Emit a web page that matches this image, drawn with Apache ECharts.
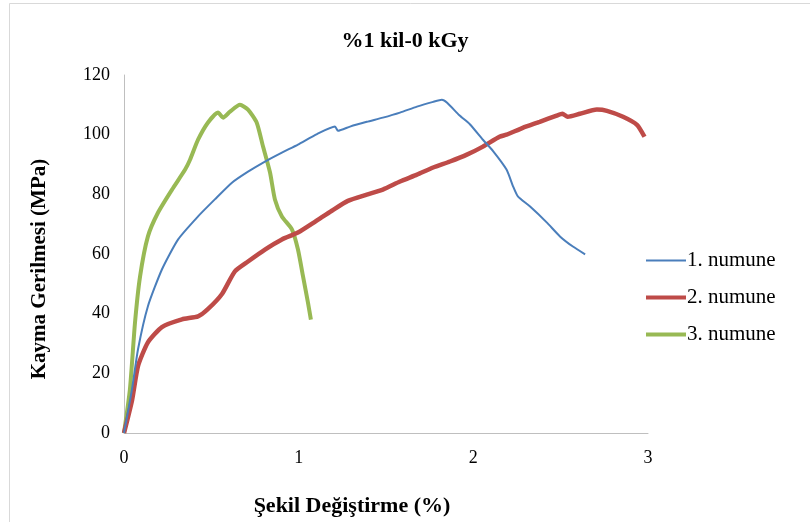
<!DOCTYPE html>
<html>
<head>
<meta charset="utf-8">
<script src="https://cdn.jsdelivr.net/npm/echarts@6/dist/echarts.min.js"></script>
<style>
  html, body { margin: 0; padding: 0; background: #fff; }
  #chart { width: 810px; height: 522px; }
</style>
</head>
<body>
<div id="chart"></div>
<script>
// Shear stress (MPa) versus strain (%) for three specimens
const chartTitle = '%1 kil-0 kGy';
const xAxisName = 'Şekil Değiştirme (%)';
const yAxisName = 'Kayma Gerilmesi (MPa)';
const seriesNames = ['1. numune', '2. numune', '3. numune'];

const xTicks = [0, 1, 2, 3];
const yTicks = [0, 20, 40, 60, 80, 100, 120];

// [strain, stress] pairs
const numune1 = [
  [0, 0], [0.046, 14.7], [0.08, 28], [0.137, 42.5], [0.217, 54.8], [0.31, 64.9],
  [0.424, 72.6], [0.52, 78.3], [0.618, 83.9], [0.71, 87.6], [0.807, 91], [0.904, 94],
  [0.996, 96.7], [1.105, 100.2], [1.208, 102.7], [1.225, 101.3], [1.294, 102.7],
  [1.39, 104.3], [1.482, 105.7], [1.58, 107.4], [1.677, 109.4], [1.77, 111],
  [1.82, 111.7], [1.85, 110.7], [1.92, 106.5], [1.98, 103.5], [2.055, 98.3],
  [2.113, 94.5], [2.19, 88.3], [2.228, 82.6], [2.255, 79.3], [2.325, 75.9],
  [2.42, 70.6], [2.496, 65.9], [2.57, 62.5], [2.64, 59.9]
];

const numune2 = [
  [0, 0], [0.046, 11], [0.08, 22.4], [0.137, 30.4], [0.217, 35.5], [0.332, 38.1],
  [0.424, 39.1], [0.48, 41.5], [0.56, 46.5], [0.635, 54.2], [0.71, 57.5],
  [0.807, 61.5], [0.904, 64.9], [0.996, 67.2], [1.093, 70.8], [1.19, 74.5],
  [1.282, 77.8], [1.39, 79.9], [1.482, 81.6], [1.58, 84.3], [1.677, 86.6],
  [1.77, 89], [1.866, 91], [1.963, 93.3], [2.055, 96], [2.15, 99.3], [2.19, 100],
  [2.283, 102.3], [2.38, 104.3], [2.477, 106.4], [2.51, 107], [2.54, 106],
  [2.61, 107], [2.707, 108.4], [2.765, 108], [2.857, 106], [2.937, 103.3], [2.98, 99.3]
];

const numune3 = [
  [0, 0], [0.034, 14.7], [0.063, 37], [0.092, 52.5], [0.137, 65.9], [0.195, 73.9],
  [0.275, 81.6], [0.35, 88.3], [0.378, 91.6], [0.424, 98.3], [0.48, 104],
  [0.538, 107.4], [0.567, 105.7], [0.607, 107.7], [0.664, 110], [0.71, 108.4],
  [0.76, 104], [0.796, 96], [0.836, 87.3], [0.864, 78.3], [0.904, 72.6],
  [0.962, 68.2], [0.996, 61.5], [1.025, 52.5], [1.053, 43.8], [1.07, 38]
];

const colors = ['#4a7ebb', '#be4b48', '#98b954'];
const widths = [2, 4.5, 4];
const serif = '"Liberation Serif", "DejaVu Serif", serif';

const chart = echarts.init(document.getElementById('chart'), null, { renderer: 'canvas' });

const legendTops = [245, 282, 319];

chart.setOption({
  animation: false,
  backgroundColor: '#fff',
  textStyle: { fontFamily: serif, color: '#000' },
  graphic: [
    {
      type: 'rect',
      shape: { x: 9.5, y: 3.5, width: 820, height: 540 },
      style: { fill: 'none', stroke: '#d9d9d9', lineWidth: 1 },
      silent: true
    }
  ],
  title: {
    text: chartTitle,
    left: 400,
    top: 25,
    textAlign: 'center',
    textStyle: { fontFamily: serif, fontSize: 22, fontWeight: 'bold', color: '#000' }
  },
  grid: { left: 124, right: 162, top: 75, bottom: 88, containLabel: false },
  legend: seriesNames.map((name, i) => ({
    data: [{ name: name, icon: 'rect' }],
    orient: 'vertical',
    left: 641,
    top: legendTops[i],
    itemWidth: 40,
    itemHeight: widths[i] < 3 ? 2 : 4,
    itemGap: 4,
    selectedMode: false,
    textStyle: { fontFamily: serif, fontSize: 21, color: '#000', padding: [0, 0, 0, -4] }
  })),
  xAxis: {
    type: 'value',
    min: xTicks[0],
    max: xTicks[xTicks.length - 1],
    interval: 1,
    name: xAxisName,
    nameLocation: 'middle',
    nameGap: 62,
    nameTextStyle: {
      fontFamily: serif, fontSize: 22, fontWeight: 'bold', color: '#000',
      padding: [0, 68, 0, 0]
    },
    axisLine: { show: true, lineStyle: { color: '#bfbfbf', width: 1 } },
    axisTick: { show: false },
    splitLine: { show: false },
    axisLabel: { fontFamily: serif, fontSize: 18, color: '#000', margin: 16 }
  },
  yAxis: {
    type: 'value',
    min: yTicks[0],
    max: yTicks[yTicks.length - 1],
    interval: 20,
    name: yAxisName,
    nameLocation: 'middle',
    nameGap: 74,
    nameRotate: 90,
    nameTextStyle: {
      fontFamily: serif, fontSize: 21, fontWeight: 'bold', color: '#000',
      padding: [0, 30, 0, 0]
    },
    axisLine: { show: true, lineStyle: { color: '#bfbfbf', width: 1 } },
    axisTick: { show: false },
    splitLine: { show: false },
    axisLabel: { fontFamily: serif, fontSize: 18, color: '#000', margin: 14 }
  },
  series: [numune1, numune2, numune3].map((data, i) => ({
    name: seriesNames[i],
    type: 'line',
    data: data,
    showSymbol: false,
    symbol: 'none',
    smooth: 0.2,
    lineStyle: { color: colors[i], width: widths[i] },
    itemStyle: { color: colors[i] },
    z: 3 - i
  }))
});
</script>
</body>
</html>
